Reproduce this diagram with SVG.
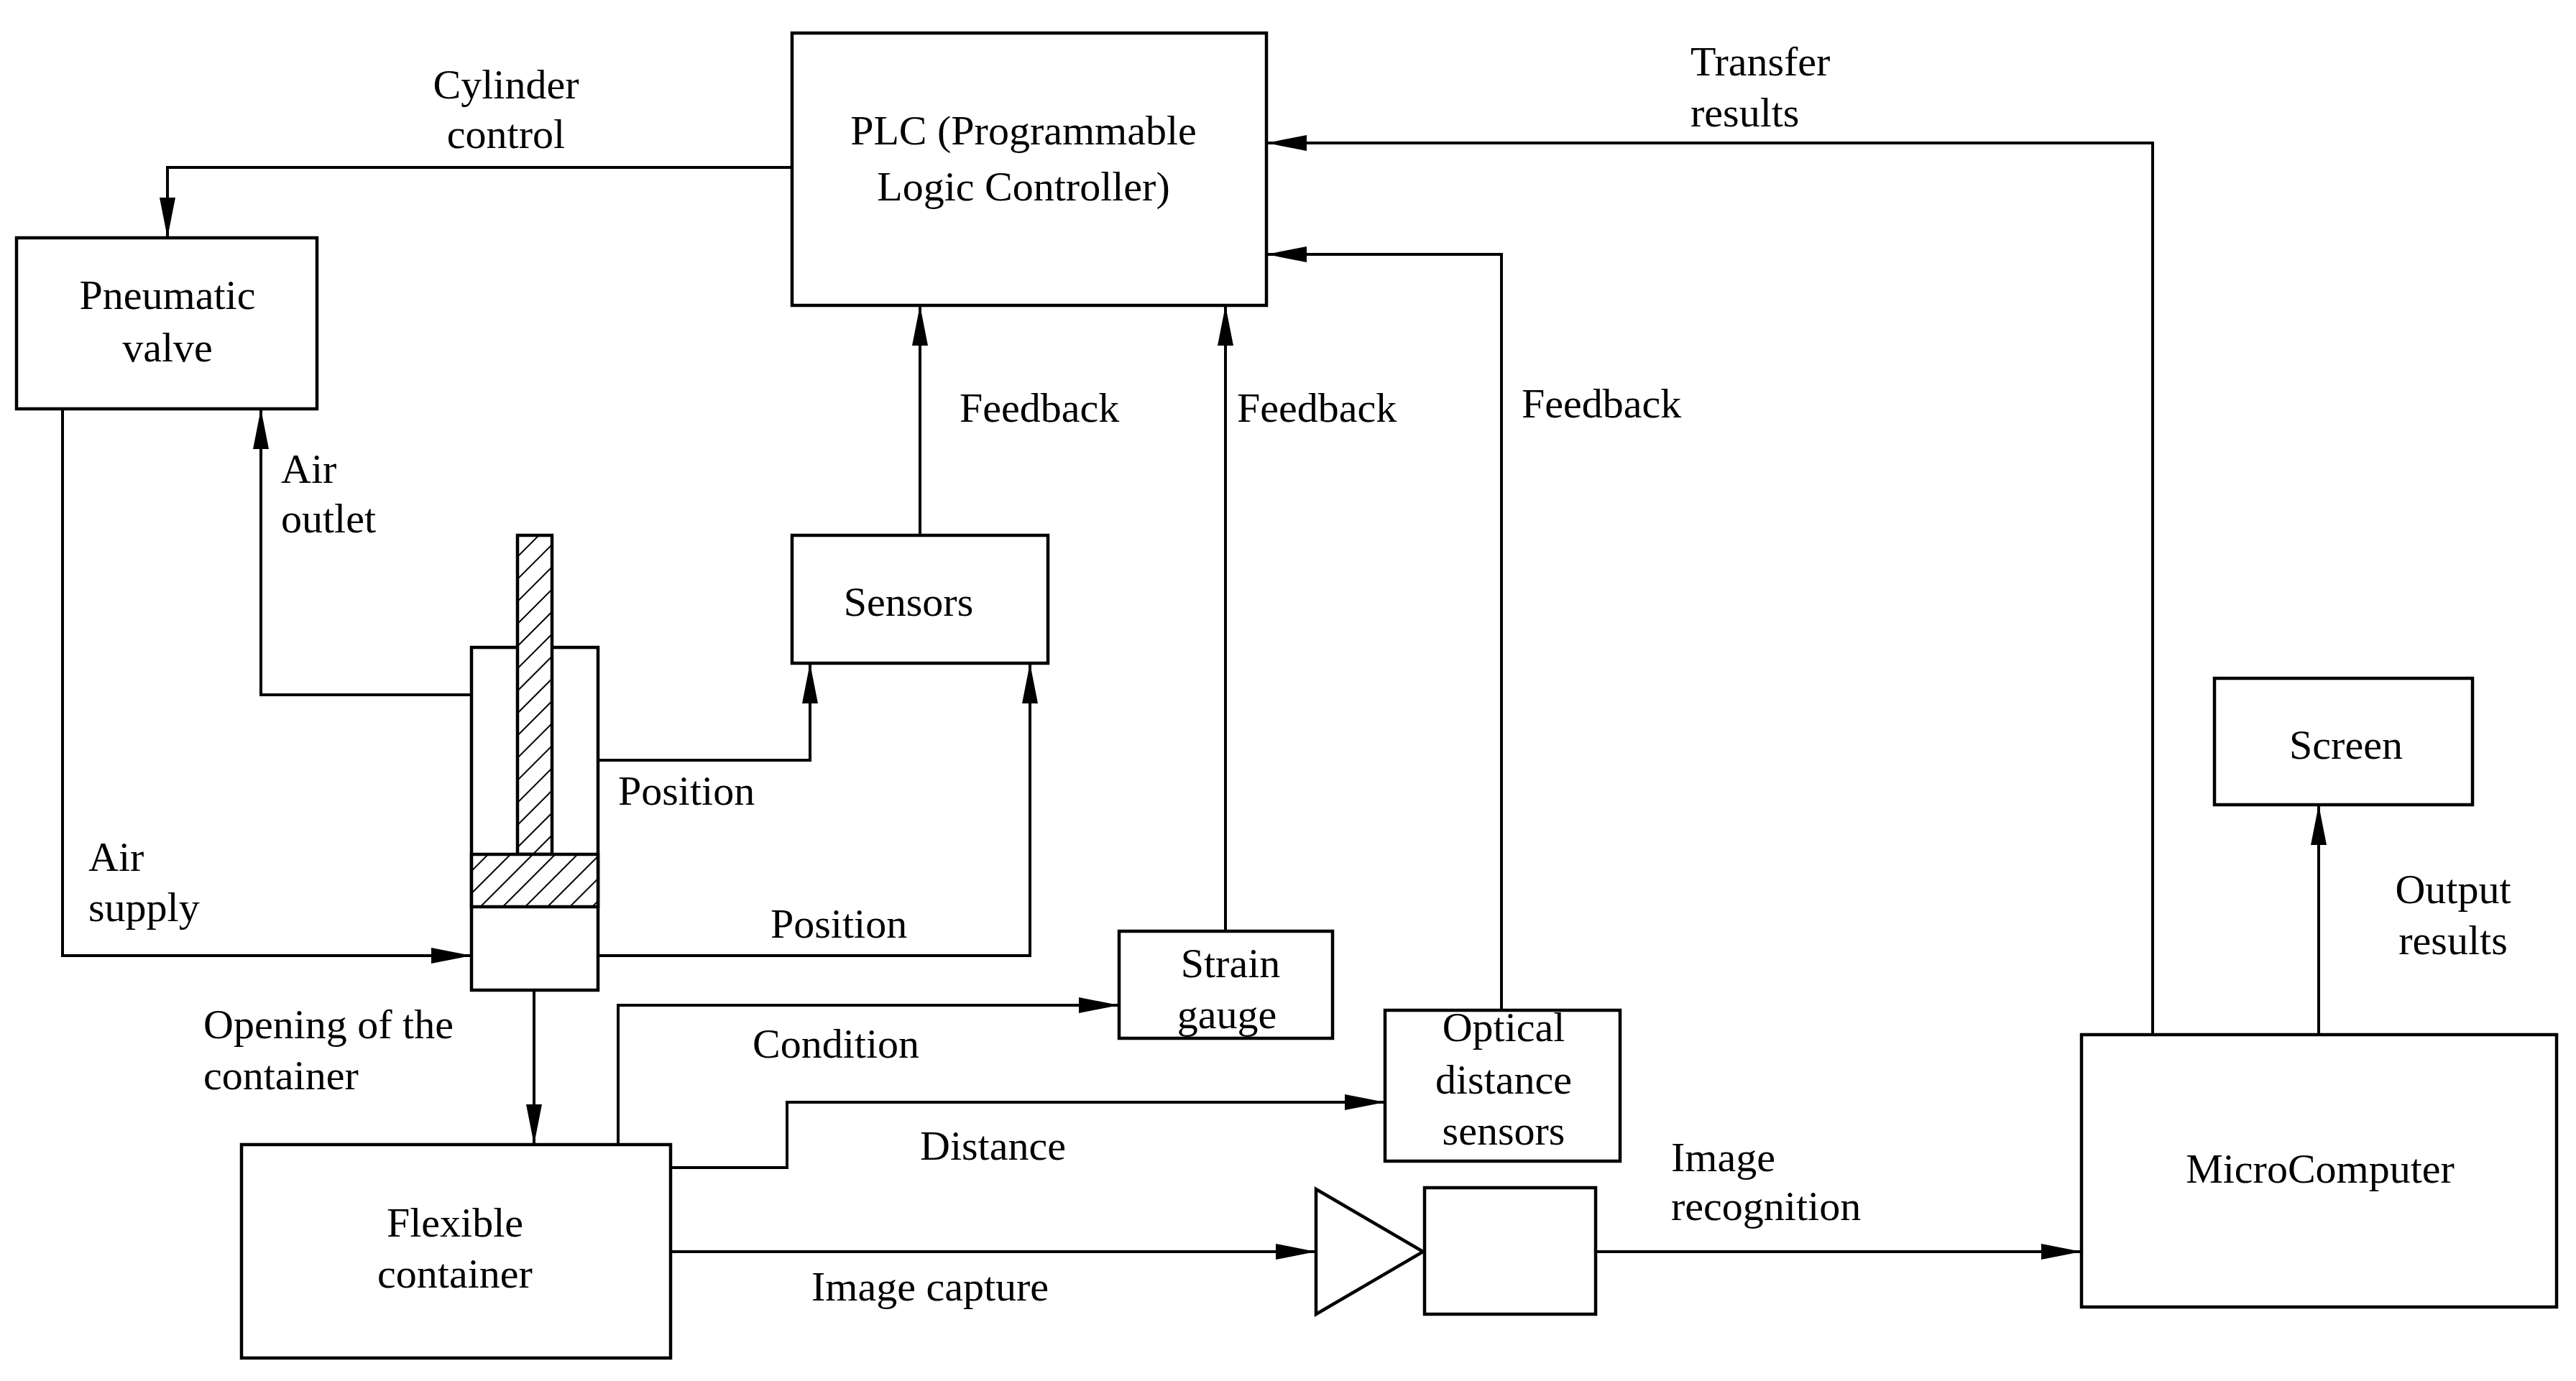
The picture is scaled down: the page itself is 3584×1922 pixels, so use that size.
<svg xmlns="http://www.w3.org/2000/svg" width="3584" height="1922" viewBox="0 0 3584 1922">
<style>
.b{fill:#fff;stroke:#000;stroke-width:4.5}
.c{fill:none;stroke:#000;stroke-width:4}
text{font-family:"Liberation Serif","DejaVu Serif",serif;font-size:58px;fill:#000}
.m{text-anchor:middle}
</style>
<defs>
<marker id="a" markerUnits="userSpaceOnUse" markerWidth="56" markerHeight="26" refX="54" refY="13" orient="auto"><path d="M0,2 L56,13 L0,24 Z" fill="#000"/></marker>
<pattern id="h" patternUnits="userSpaceOnUse" width="22" height="22" patternTransform="rotate(45)"><rect width="22" height="22" fill="#fff"/><line x1="0" y1="0" x2="0" y2="22" stroke="#000" stroke-width="4"/></pattern>
</defs>
<rect width="3584" height="1922" fill="#fff"/>
<g id="connectors" class="c">
<polyline points="1102,233 233,233 233,329" marker-end="url(#a)"/>
<polyline points="656,967 363,967 363,571" marker-end="url(#a)"/>
<polyline points="87,569 87,1330 654,1330" marker-end="url(#a)"/>
<polyline points="832,1058 1127,1058 1127,925" marker-end="url(#a)"/>
<polyline points="832,1330 1433,1330 1433,925" marker-end="url(#a)"/>
<polyline points="1280,745 1280,427" marker-end="url(#a)"/>
<polyline points="1705,1296 1705,427" marker-end="url(#a)"/>
<polyline points="2089,1406 2089,354 1764,354" marker-end="url(#a)"/>
<polyline points="2995,1440 2995,199 1764,199" marker-end="url(#a)"/>
<polyline points="3226,1440 3226,1122" marker-end="url(#a)"/>
<polyline points="743,1378 743,1591" marker-end="url(#a)"/>
<polyline points="860,1593 860,1399 1555,1399" marker-end="url(#a)"/>
<polyline points="933,1625 1095,1625 1095,1534 1925,1534" marker-end="url(#a)"/>
<polyline points="933,1742 1829,1742" marker-end="url(#a)"/>
<polyline points="2220,1742 2894,1742" marker-end="url(#a)"/>
</g>
<g id="plc"><rect class="b" x="1102" y="46" width="660" height="379"/><text class="m" x="1424" y="201">PLC (Programmable</text><text class="m" x="1424" y="279">Logic Controller)</text></g>
<g id="valve"><rect class="b" x="23" y="331" width="418" height="238"/><text class="m" x="233" y="430">Pneumatic</text><text class="m" x="233" y="503">valve</text></g>
<g id="sensors"><rect class="b" x="1102" y="745" width="356" height="178"/><text class="m" x="1264" y="857">Sensors</text></g>
<g id="screen"><rect class="b" x="3081" y="944" width="359" height="176"/><text class="m" x="3264" y="1056">Screen</text></g>
<g id="micro"><rect class="b" x="2896" y="1440" width="661" height="379"/><text class="m" x="3228" y="1646">MicroComputer</text></g>
<g id="strain"><rect class="b" x="1557" y="1296" width="297" height="149"/><text class="m" x="1712" y="1360">Strain</text><text class="m" x="1707" y="1431">gauge</text></g>
<g id="optical"><rect class="b" x="1927" y="1406" width="327" height="210"/><text class="m" x="2092" y="1449">Optical</text><text class="m" x="2092" y="1522">distance</text><text class="m" x="2092" y="1593">sensors</text></g>
<g id="container"><rect class="b" x="336" y="1593" width="597" height="297"/><text class="m" x="633" y="1721">Flexible</text><text class="m" x="633" y="1792">container</text></g>
<g id="camera"><path class="b" d="M1831,1655 L1980,1742 L1831,1829 Z"/><rect class="b" x="1982" y="1653" width="238" height="176"/></g>
<g id="cylinder"><rect class="b" x="656" y="901" width="176" height="477"/><rect class="b" x="720" y="745" width="48" height="444" style="fill:url(#h)"/><rect class="b" x="656" y="1189" width="176" height="73" style="fill:url(#h)"/></g>
<g id="labels">
<text class="m" x="704" y="137">Cylinder</text><text class="m" x="704" y="206">control</text>
<text x="391" y="672">Air</text><text x="391" y="741">outlet</text>
<text x="1335" y="587">Feedback</text><text x="1721" y="587">Feedback</text><text x="2117" y="581">Feedback</text>
<text x="2352" y="105">Transfer</text><text x="2352" y="176">results</text>
<text x="860" y="1120">Position</text><text x="1072" y="1305">Position</text>
<text x="123" y="1212">Air</text><text x="123" y="1282">supply</text>
<text class="m" x="3413" y="1257">Output</text><text class="m" x="3413" y="1328">results</text>
<text x="283" y="1445">Opening of the</text><text x="283" y="1516">container</text>
<text x="1047" y="1472">Condition</text><text x="1280" y="1614">Distance</text>
<text x="1129" y="1810">Image capture</text>
<text x="2325" y="1630">Image</text><text x="2325" y="1698">recognition</text>
</g>
</svg>
